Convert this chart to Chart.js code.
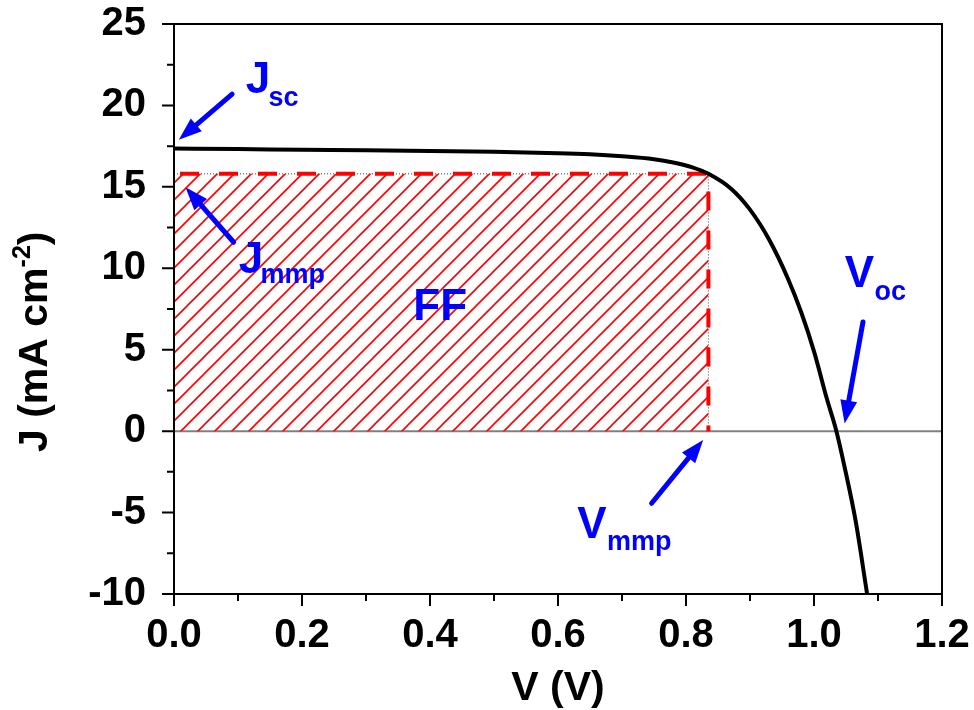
<!DOCTYPE html>
<html>
<head>
<meta charset="utf-8">
<script src="https://cdn.jsdelivr.net/npm/chart.js@4.4.1/dist/chart.umd.min.js"></script>
<style>
  html, body { margin: 0; padding: 0; background: #fff; }
  #wrap { width: 974px; height: 710px; }
</style>
</head>
<body>
<div id="wrap"><canvas id="jvChart" width="974" height="710"></canvas></div>
<script>
// J-V curve
const voltage = [0, 0.1, 0.2, 0.3, 0.4, 0.5, 0.6, 0.65, 0.7, 0.75, 0.78, 0.81, 0.835, 0.87, 0.9, 0.93, 0.96, 0.98, 1.0, 1.02, 1.035, 1.05, 1.065, 1.083];
const current = [17.35, 17.32, 17.28, 17.25, 17.2, 17.15, 17.07, 17.0, 16.88, 16.7, 16.5, 16.2, 15.8, 14.9, 13.6, 11.75, 9.3, 7.3, 4.9, 2.0, 0.0, -2.6, -5.5, -10.0];

// maximum power point
const vMmp = 0.835;
const jMmp = 15.8;

// axes
const xMajor = [0, 0.2, 0.4, 0.6, 0.8, 1.0, 1.2];
const xMinor = [0.1, 0.3, 0.5, 0.7, 0.9, 1.1];
const xTickLabels = ['0.0', '0.2', '0.4', '0.6', '0.8', '1.0', '1.2'];
const yMajor = [-10, -5, 0, 5, 10, 15, 20, 25];
const yMinor = [-7.5, -2.5, 2.5, 7.5, 12.5, 17.5, 22.5];
const yTickLabels = ['-10', '-5', '0', '5', '10', '15', '20', '25'];

// annotations (data units): main letter, subscript, arrow tail -> tip
const labelText = ['J', 'J', 'FF', 'V', 'V'];
const labelSub = ['sc', 'mmp', '', 'mmp', 'oc'];
const labelPos = [[0.112, 20.77], [0.101, 9.68], [0.374, 6.8], [0.630, -6.56], [1.048, 8.84]];
const subPos = [[0.1475, 19.98], [0.135, 9.07], null, [0.6765, -7.29], [1.0947, 8.03]];
const arrowFrom = [[0.0908, 20.69], [0.0933, 11.6], [0.7463, -4.43], [1.0765, 6.7]];
const arrowTo = [[0.0075, 17.89], [0.018, 14.97], [0.8268, -0.55], [1.0479, 0.47]];

const FONT = 'Arial, "Liberation Sans", sans-serif';
const BLUE = '#0000ff';
const RED = '#ff0000';

function hatchPattern() {
    const s = 17;
    const c = document.createElement('canvas');
    c.width = s; c.height = s;
    const g = c.getContext('2d');
    g.strokeStyle = RED;
    g.lineWidth = 1.6;
    g.beginPath();
    g.moveTo(-2, s + 2); g.lineTo(s + 2, -2);
    g.moveTo(-2, 2); g.lineTo(2, -2);
    g.moveTo(s - 2, s + 2); g.lineTo(s + 2, s - 2);
    g.stroke();
    return document.getElementById('jvChart').getContext('2d').createPattern(c, 'repeat');
}

const rectPts = [{ x: 0, y: jMmp }, { x: vMmp, y: jMmp }, { x: vMmp, y: 0 }];

function noPad(s) {
    s.paddingTop = 0; s.paddingBottom = 0; s.paddingLeft = 0; s.paddingRight = 0;
}

const frameAndText = {
    id: 'frameAndText',
    beforeDatasetsDraw(chart) {
        const { ctx, chartArea: a, scales: { x, y } } = chart;
        ctx.save();
        ctx.strokeStyle = '#808080';
        ctx.lineWidth = 2;
        ctx.beginPath();
        ctx.moveTo(a.left, y.getPixelForValue(0));
        ctx.lineTo(a.right, y.getPixelForValue(0));
        ctx.stroke();
        ctx.restore();
    },
    afterDraw(chart) {
        const { ctx, chartArea: a, scales: { x, y } } = chart;
        ctx.save();
        // frame
        ctx.strokeStyle = '#000';
        ctx.lineWidth = 2;
        ctx.strokeRect(a.left, a.top, a.right - a.left, a.bottom - a.top);
        // ticks
        ctx.beginPath();
        xMajor.forEach(v => { const p = x.getPixelForValue(v); ctx.moveTo(p, a.bottom); ctx.lineTo(p, a.bottom + 12); });
        xMinor.forEach(v => { const p = x.getPixelForValue(v); ctx.moveTo(p, a.bottom); ctx.lineTo(p, a.bottom + 7); });
        yMajor.forEach(v => { const p = y.getPixelForValue(v); ctx.moveTo(a.left, p); ctx.lineTo(a.left - 12, p); });
        yMinor.forEach(v => { const p = y.getPixelForValue(v); ctx.moveTo(a.left, p); ctx.lineTo(a.left - 7, p); });
        ctx.stroke();

        // axis titles
        ctx.fillStyle = '#000';
        ctx.font = 'bold 41px ' + FONT;
        ctx.textAlign = 'center';
        ctx.textBaseline = 'alphabetic';
        ctx.fillText('V (V)', (a.left + a.right) / 2, 700);

        ctx.save();
        ctx.translate(47, 452);
        ctx.rotate(-Math.PI / 2);
        ctx.textAlign = 'left';
        ctx.font = 'bold 41px ' + FONT;
        const main = 'J (mA cm';
        ctx.fillText(main, 0, 0);
        let w = ctx.measureText(main).width;
        ctx.font = 'bold 25px ' + FONT;
        ctx.fillText('-2', w, -17);
        w += ctx.measureText('-2').width;
        ctx.font = 'bold 41px ' + FONT;
        ctx.fillText(')', w, 0);
        ctx.restore();

        // annotations
        ctx.fillStyle = BLUE;
        ctx.textAlign = 'left';
        labelText.forEach((t, i) => {
            ctx.font = 'bold 44px ' + FONT;
            ctx.fillText(t, x.getPixelForValue(labelPos[i][0]), y.getPixelForValue(labelPos[i][1]));
            if (subPos[i]) {
                ctx.font = 'bold 27px ' + FONT;
                ctx.fillText(labelSub[i], x.getPixelForValue(subPos[i][0]), y.getPixelForValue(subPos[i][1]));
            }
        });
        ctx.strokeStyle = BLUE;
        ctx.lineWidth = 5;
        ctx.lineCap = 'round';
        arrowFrom.forEach((f, i) => {
            const x0 = x.getPixelForValue(f[0]), y0 = y.getPixelForValue(f[1]);
            const x1 = x.getPixelForValue(arrowTo[i][0]), y1 = y.getPixelForValue(arrowTo[i][1]);
            const ang = Math.atan2(y1 - y0, x1 - x0);
            const hl = 23, hw = 8.5;
            const bx = x1 - hl * Math.cos(ang), by = y1 - hl * Math.sin(ang);
            ctx.beginPath();
            ctx.moveTo(x0, y0);
            ctx.lineTo(bx, by);
            ctx.stroke();
            ctx.beginPath();
            ctx.moveTo(x1, y1);
            ctx.lineTo(bx + hw * Math.sin(ang), by - hw * Math.cos(ang));
            ctx.lineTo(bx - hw * Math.sin(ang), by + hw * Math.cos(ang));
            ctx.closePath();
            ctx.fill();
        });
        ctx.restore();
    }
};

const ctx = document.getElementById('jvChart').getContext('2d');
const chart = new Chart(ctx, {
    type: 'line',
    data: {
        datasets: [
            {
                label: 'J-V',
                data: voltage.map((v, i) => ({ x: v, y: current[i] })),
                borderColor: '#000',
                borderWidth: 4,
                pointRadius: 0,
                cubicInterpolationMode: 'monotone',
                fill: false,
                order: 0
            },
            {
                label: 'FF box',
                data: rectPts,
                borderColor: RED,
                borderWidth: 4,
                borderDash: [19, 20],
                borderDashOffset: -6,
                backgroundColor: hatchPattern(),
                pointRadius: 0,
                tension: 0,
                fill: 'origin',
                order: 1
            },
            {
                label: 'FF outline',
                data: rectPts,
                borderColor: '#444',
                borderWidth: 1,
                borderDash: [1, 2],
                pointRadius: 0,
                tension: 0,
                fill: false,
                order: 2
            }
        ]
    },
    options: {
        responsive: false,
        animation: false,
        devicePixelRatio: 1,
        layout: { padding: { left: 0, top: 24, right: 32, bottom: 0 } },
        plugins: { legend: { display: false }, tooltip: { enabled: false } },
        scales: {
            x: {
                type: 'linear',
                min: 0,
                max: 1.2,
                afterBuildTicks: s => { s.ticks = xMajor.map(v => ({ value: v })); },
                afterFit: s => { s.height = 116; noPad(s); },
                grid: { display: false },
                border: { display: false },
                ticks: {
                    color: '#000',
                    padding: 10,
                    maxRotation: 0,
                    autoSkip: false,
                    font: { family: FONT, size: 40, weight: 'bold' },
                    callback: (v, i) => xTickLabels[i]
                }
            },
            y: {
                type: 'linear',
                min: -10,
                max: 25,
                afterBuildTicks: s => { s.ticks = yMajor.map(v => ({ value: v })); },
                afterFit: s => { s.width = 174; noPad(s); },
                grid: { display: false },
                border: { display: false },
                ticks: {
                    color: '#000',
                    padding: 20,
                    autoSkip: false,
                    font: { family: FONT, size: 40, weight: 'bold' },
                    callback: (v, i) => yTickLabels[i]
                }
            }
        }
    },
    plugins: [frameAndText]
});
</script>
</body>
</html>
